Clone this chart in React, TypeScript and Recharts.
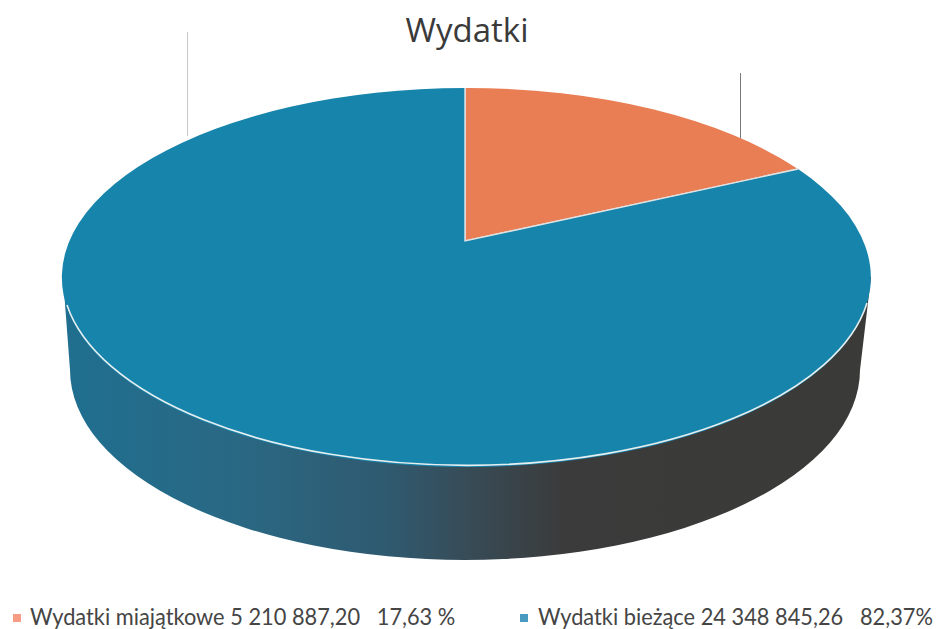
import { PieChart, Pie, Cell, Legend } from 'recharts';

// ---------------------------------------------------------------------------
// Data
// ---------------------------------------------------------------------------
const CATEGORIES = ['Wydatki miajątkowe', 'Wydatki bieżące'];
const VALUES = [5210887.2, 24348845.26];
const LEGEND_LABELS = [
  'Wydatki miajątkowe 5 210 887,20\u00a0\u00a0\u00a017,63 %',
  'Wydatki bieżące 24 348 845,26\u00a0\u00a0\u00a082,37%',
];

const TOP_COLORS = ['#e97d53', '#1784ab'];
const SWATCH_COLORS = ['#f69b84', '#4a9bbf'];

const chartData = CATEGORIES.map((name, i) => ({ name, value: VALUES[i] }));

// ---------------------------------------------------------------------------
// Fake 3D: the pie's flat angles are pushed through a perspective tilt
// ---------------------------------------------------------------------------
const CX = 465;
const CY = 241;
const TILT = 0.0994;
const SCALE_X = 388.8;
const SCALE_Y = 168.2;

// top face ellipse
const RX = 404.5;
const RY = 189.5;

// lower rim ellipse
const RIM_CX = 465;
const RIM_CY = 370;
const RIM_RX = 395;
const RIM_RY = 190;

function project(angle: number) {
  const t = ((90 - angle) * Math.PI) / 180;
  const w = 1 + TILT * Math.cos(t);
  return {
    x: CX + (SCALE_X * Math.sin(t)) / w,
    y: CY - (SCALE_Y * Math.cos(t)) / w,
  };
}

function Slice3D(props: any) {
  const { startAngle, endAngle, fill } = props;
  const a = project(startAngle);
  const b = project(endAngle);
  const large = Math.abs(endAngle - startAngle) > 180 ? 1 : 0;
  const hasWall = Math.abs(endAngle - startAngle) > 180;
  return (
    <g>
      {hasWall && (
        <path
          d={`M 63 277 L ${RIM_CX - RIM_RX} ${RIM_CY} A ${RIM_RX} ${RIM_RY} 0 0 0 ${RIM_CX + RIM_RX} ${RIM_CY} L 871 277 Z`}
          fill="url(#wallShade)"
        />
      )}
      <path
        d={`M ${CX} ${CY} L ${a.x} ${a.y} A ${RX} ${RY} 0 ${large} 1 ${b.x} ${b.y} Z`}
        fill={fill}
      />
      <path
        d={`M ${a.x} ${a.y} L ${CX} ${CY} L ${b.x} ${b.y}`}
        fill="none"
        stroke="#dfe3e4"
        strokeWidth={1.4}
      />
      {hasWall && (
        <path
          d={`M 67 305 A ${RX} ${RY} 0 0 0 867 303`}
          fill="none"
          stroke="#e6eef0"
          strokeWidth={1.6}
        />
      )}
    </g>
  );
}

function LegendRow() {
  const rows = [
    { swatchX: 13, textX: 30 },
    { swatchX: 520, textX: 538 },
  ];
  return (
    <div style={{ position: 'relative', width: 936, height: 30 }}>
      {LEGEND_LABELS.map((label, i) => (
        <div key={label}>
          <span
            style={{
              position: 'absolute',
              left: rows[i].swatchX,
              top: 13,
              width: 8,
              height: 8,
              background: SWATCH_COLORS[i],
            }}
          />
          <span
            style={{
              position: 'absolute',
              left: rows[i].textX,
              top: 2,
              fontSize: 24,
              lineHeight: '26px',
              color: '#454545',
              whiteSpace: 'nowrap',
              transform: 'scaleX(0.908)',
              transformOrigin: 'left center',
            }}
          >
            {label}
          </span>
        </div>
      ))}
    </div>
  );
}

export default function App() {
  return (
    <div
      style={{
        position: 'absolute',
        left: 0,
        top: 0,
        width: 936,
        height: 629,
        overflow: 'hidden',
        background: '#fff',
        fontFamily: 'Lato, sans-serif',
      }}
    >
      {/* scanner streaks behind the pie */}
      <div style={{ position: 'absolute', left: 187, top: 32, width: 1, height: 104, background: '#c9c9c9' }} />
      <div style={{ position: 'absolute', left: 740, top: 73, width: 1, height: 66, background: '#777' }} />

      <div
        style={{
          position: 'absolute',
          left: -1,
          width: 936,
          top: 8,
          textAlign: 'center',
          fontSize: 33,
          lineHeight: '44px',
          color: '#3a3a3a',
          fontFamily: '"Open Sans", sans-serif',
        }}
      >
        Wydatki
      </div>

      <PieChart
        width={936}
        height={629}
        margin={{ top: 0, right: 0, bottom: 0, left: 0 }}
        style={{ position: 'absolute', left: 0, top: 0 }}
      >
        <defs>
          <linearGradient id="wallShade" x1="62" y1="0" x2="871" y2="0" gradientUnits="userSpaceOnUse">
            <stop offset="0%" stopColor="#1f6f90" />
            <stop offset="22%" stopColor="#2a6883" />
            <stop offset="40%" stopColor="#2f5a70" />
            <stop offset="50%" stopColor="#374c57" />
            <stop offset="62%" stopColor="#3b3b3b" />
            <stop offset="100%" stopColor="#3a3a38" />
          </linearGradient>
        </defs>
        <Pie
          data={chartData}
          dataKey="value"
          nameKey="name"
          cx={CX}
          cy={CY}
          outerRadius={RX}
          startAngle={90}
          endAngle={-270}
          stroke="none"
          shape={Slice3D}
          isAnimationActive={false}
        >
          {chartData.map((d, i) => (
            <Cell key={d.name} fill={TOP_COLORS[i]} />
          ))}
        </Pie>
        <Legend
          content={<LegendRow />}
          wrapperStyle={{ position: 'absolute', left: 0, top: 601, width: 936 }}
        />
      </PieChart>
    </div>
  );
}
